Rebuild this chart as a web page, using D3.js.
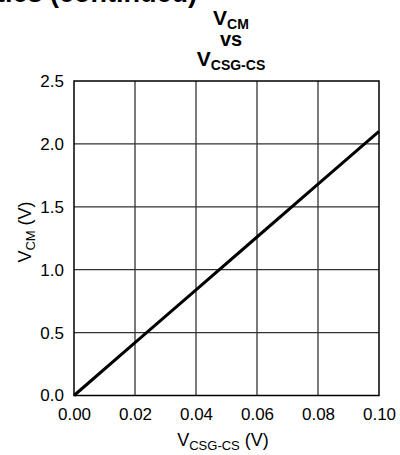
<!DOCTYPE html>
<html>
<head>
<meta charset="utf-8">
<script src="https://cdn.jsdelivr.net/npm/d3@7"></script>
<style>
  body { margin: 0; background: #fff; }
  text { font-family: Arial, "Liberation Sans", sans-serif; }
</style>
</head>
<body>
<script>
// Data
const vcsg = [0, 0.02, 0.04, 0.06, 0.08, 0.10];
const vcm = [0, 0.42, 0.84, 1.26, 1.68, 2.10];
const xTicks = [0, 0.02, 0.04, 0.06, 0.08, 0.10];
const yTicks = [0, 0.5, 1.0, 1.5, 2.0, 2.5];

const margin = { top: 81, right: 21, bottom: 59.5, left: 74 };
const W = 400, H = 455;
const width = W - margin.left - margin.right;
const height = H - margin.top - margin.bottom;

const svg = d3.select('body').append('svg')
    .attr('width', W)
    .attr('height', H);

// section heading, cut off at the top of the page
svg.append('text')
    .attr('x', 197)
    .attr('y', 2)
    .attr('text-anchor', 'end')
    .style('font-size', '27px')
    .style('font-weight', 'bold')
    .text('Typical Characteristics (continued)');

// title
const title = svg.append('g').style('font-weight', 'bold');
function subText(g, x, y, main, sub, size, subSize) {
    const t = g.append('text')
        .attr('x', x)
        .attr('y', y)
        .attr('text-anchor', 'middle')
        .style('font-size', size + 'px');
    t.append('tspan').text(main);
    t.append('tspan').attr('dy', size * 0.2).style('font-size', subSize + 'px').text(sub);
    return t;
}
subText(title, 231, 25, 'V', 'CM', 21, 14);
title.append('text')
    .attr('x', 231).attr('y', 46)
    .attr('text-anchor', 'middle')
    .style('font-size', '20px')
    .text('vs');
subText(title, 231, 66, 'V', 'CSG-CS', 21, 14);

const g = svg.append('g')
    .attr('transform', `translate(${margin.left},${margin.top})`);

const x = d3.scaleLinear().domain([0, 0.10]).range([0, width]);
const y = d3.scaleLinear().domain([0, 2.5]).range([height, 0]);

// grid
g.append('g').selectAll('line')
    .data(xTicks.slice(1, -1))
    .enter().append('line')
    .attr('x1', d => x(d)).attr('x2', d => x(d))
    .attr('y1', 0).attr('y2', height)
    .style('stroke', '#222').style('stroke-width', 1.2);

g.append('g').selectAll('line')
    .data(yTicks.slice(1, -1))
    .enter().append('line')
    .attr('y1', d => y(d)).attr('y2', d => y(d))
    .attr('x1', 0).attr('x2', width)
    .style('stroke', '#333').style('stroke-width', 1.2);

// axes (labels only)
const xAxis = d3.axisBottom(x).tickValues(xTicks).tickFormat(d3.format('.2f')).tickSize(0).tickPadding(12);
const yAxis = d3.axisLeft(y).tickValues(yTicks).tickFormat(d3.format('.1f')).tickSize(0).tickPadding(10);

g.append('g')
    .attr('transform', `translate(0,${height})`)
    .call(xAxis)
    .call(a => a.select('.domain').remove())
    .selectAll('text')
    .style('font-size', '17px')
    .style('fill', '#000');

g.append('g')
    .call(yAxis)
    .call(a => a.select('.domain').remove())
    .selectAll('text')
    .style('font-size', '17px')
    .style('fill', '#000');

// frame
g.append('rect')
    .attr('x', 0).attr('y', 0)
    .attr('width', width).attr('height', height)
    .style('fill', 'none')
    .style('stroke', '#000')
    .style('stroke-width', 1.5);

// curve
const line = d3.line()
    .x((d, i) => x(vcsg[i]))
    .y(d => y(d));

g.append('path')
    .datum(vcm)
    .attr('d', line)
    .style('fill', 'none')
    .style('stroke', '#000')
    .style('stroke-width', 3);

// axis titles
subText(svg, 223, 446, 'V', 'CSG-CS', 18, 13)
    .append('tspan').attr('dy', -18 * 0.2).style('font-size', '18px').text(' (V)');

subText(svg, 0, 0, 'V', 'CM', 18, 13)
    .attr('transform', `translate(31,232) rotate(-90)`)
    .append('tspan').attr('dy', -18 * 0.2).style('font-size', '18px').text(' (V)');
</script>
</body>
</html>
